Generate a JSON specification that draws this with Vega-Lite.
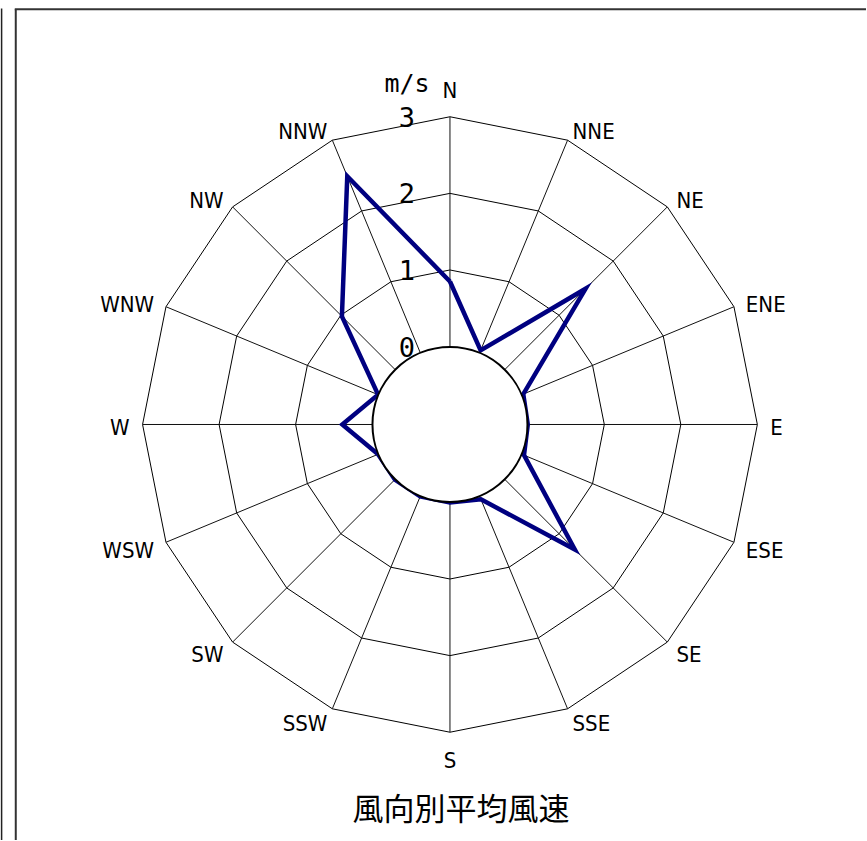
{
  "$schema": "https://vega.github.io/schema/vega-lite/v6.json",
  "width": 867,
  "height": 841,
  "padding": 0,
  "autosize": {"type": "fit", "contains": "padding"},
  "background": "white",
  "config": {"view": {"stroke": null}},
  "datasets": {
    "one": [{}],
    "dirs": [
      {"dir": "N", "i": 0}, {"dir": "NNE", "i": 1}, {"dir": "NE", "i": 2}, {"dir": "ENE", "i": 3},
      {"dir": "E", "i": 4}, {"dir": "ESE", "i": 5}, {"dir": "SE", "i": 6}, {"dir": "SSE", "i": 7},
      {"dir": "S", "i": 8}, {"dir": "SSW", "i": 9}, {"dir": "SW", "i": 10}, {"dir": "WSW", "i": 11},
      {"dir": "W", "i": 12}, {"dir": "WNW", "i": 13}, {"dir": "NW", "i": 14}, {"dir": "NNW", "i": 15}
    ],
    "ringpts": [
      {"i": 0, "levels": [1, 2, 3]}, {"i": 1, "levels": [1, 2, 3]}, {"i": 2, "levels": [1, 2, 3]},
      {"i": 3, "levels": [1, 2, 3]}, {"i": 4, "levels": [1, 2, 3]}, {"i": 5, "levels": [1, 2, 3]},
      {"i": 6, "levels": [1, 2, 3]}, {"i": 7, "levels": [1, 2, 3]}, {"i": 8, "levels": [1, 2, 3]},
      {"i": 9, "levels": [1, 2, 3]}, {"i": 10, "levels": [1, 2, 3]}, {"i": 11, "levels": [1, 2, 3]},
      {"i": 12, "levels": [1, 2, 3]}, {"i": 13, "levels": [1, 2, 3]}, {"i": 14, "levels": [1, 2, 3]},
      {"i": 15, "levels": [1, 2, 3]}, {"i": 16, "levels": [1, 2, 3]}
    ],
    "speed": [
      {"dir": "N", "i": 0, "v": 0.85}, {"dir": "NNE", "i": 1, "v": 0.03}, {"dir": "NE", "i": 2, "v": 1.49},
      {"dir": "ENE", "i": 3, "v": 0.02}, {"dir": "E", "i": 4, "v": 0.0}, {"dir": "ESE", "i": 5, "v": 0.03},
      {"dir": "SE", "i": 6, "v": 1.29}, {"dir": "SSE", "i": 7, "v": 0.04}, {"dir": "S", "i": 8, "v": 0.0},
      {"dir": "SSW", "i": 9, "v": 0.0}, {"dir": "SW", "i": 10, "v": 0.0}, {"dir": "WSW", "i": 11, "v": 0.0},
      {"dir": "W", "i": 12, "v": 0.39}, {"dir": "WNW", "i": 13, "v": 0.0}, {"dir": "NW", "i": 14, "v": 0.98},
      {"dir": "NNW", "i": 15, "v": 2.49}, {"dir": "N", "i": 16, "v": 0.85}
    ],
    "ticks": [
      {"lab": "0", "v": 0}, {"lab": "1", "v": 1}, {"lab": "2", "v": 2}, {"lab": "3", "v": 3}
    ]
  },
  "layer": [
    {
      "data": {"name": "ringpts"},
      "transform": [
        {"flatten": ["levels"], "as": ["lev"]},
        {"calculate": "78 + 76.7 * datum.lev", "as": "r"},
        {"calculate": "datum.r * sin(datum.i * PI / 8)", "as": "x"},
        {"calculate": "datum.r * cos(datum.i * PI / 8)", "as": "y"}
      ],
      "mark": {"type": "line", "color": "#000", "strokeWidth": 1},
      "encoding": {
        "x": {"field": "x", "type": "quantitative", "axis": null, "scale": {"domain": [-450, 417], "nice": false, "zero": false}},
        "y": {"field": "y", "type": "quantitative", "axis": null, "scale": {"domain": [-416, 425], "nice": false, "zero": false}},
        "detail": {"field": "lev"},
        "order": {"field": "i", "type": "quantitative"}
      }
    },
    {
      "data": {"name": "dirs"},
      "transform": [
        {"calculate": "78 * sin(datum.i * PI / 8)", "as": "x1"},
        {"calculate": "78 * cos(datum.i * PI / 8)", "as": "y1"},
        {"calculate": "308 * sin(datum.i * PI / 8)", "as": "x2"},
        {"calculate": "308 * cos(datum.i * PI / 8)", "as": "y2"}
      ],
      "mark": {"type": "rule", "color": "#111", "strokeWidth": 1},
      "encoding": {
        "x": {"field": "x1", "type": "quantitative", "scale": {"domain": [-450, 417], "nice": false, "zero": false}},
        "y": {"field": "y1", "type": "quantitative", "scale": {"domain": [-416, 425], "nice": false, "zero": false}},
        "x2": {"field": "x2"},
        "y2": {"field": "y2"}
      }
    },
    {
      "data": {"name": "speed"},
      "transform": [
        {"calculate": "78 + 76.7 * datum.v", "as": "r"},
        {"calculate": "datum.r * sin(datum.i * PI / 8)", "as": "x"},
        {"calculate": "datum.r * cos(datum.i * PI / 8)", "as": "y"}
      ],
      "mark": {"type": "line", "color": "#000080", "strokeWidth": 4.5, "strokeJoin": "miter"},
      "encoding": {
        "x": {"field": "x", "type": "quantitative", "scale": {"domain": [-450, 417], "nice": false, "zero": false}},
        "y": {"field": "y", "type": "quantitative", "scale": {"domain": [-416, 425], "nice": false, "zero": false}},
        "order": {"field": "i", "type": "quantitative"}
      }
    },
    {
      "data": {"name": "one"},
      "mark": {"type": "point", "shape": "circle", "filled": true, "fill": "white", "stroke": "black", "strokeWidth": 2, "opacity": 1, "fillOpacity": 1, "strokeOpacity": 1, "size": 24025},
      "encoding": {
        "x": {"datum": 0, "type": "quantitative"},
        "y": {"datum": 0, "type": "quantitative"}
      }
    },
    {
      "data": {"name": "dirs"},
      "transform": [
        {"filter": "datum.i >= 1 && datum.i <= 7"},
        {"calculate": "321 * sin(datum.i * PI / 8)", "as": "x"},
        {"calculate": "321 * cos(datum.i * PI / 8)", "as": "y"}
      ],
      "mark": {"type": "text", "align": "left", "baseline": "middle", "dy": 3.5, "font": "Liberation Sans Narrow, DejaVu Sans Condensed, sans-serif", "fontSize": 22, "color": "black"},
      "encoding": {
        "x": {"field": "x", "type": "quantitative"},
        "y": {"field": "y", "type": "quantitative"},
        "text": {"field": "dir"}
      }
    },
    {
      "data": {"name": "dirs"},
      "transform": [
        {"filter": "datum.i >= 9"},
        {"calculate": "321 * sin(datum.i * PI / 8)", "as": "x"},
        {"calculate": "321 * cos(datum.i * PI / 8)", "as": "y"}
      ],
      "mark": {"type": "text", "align": "right", "baseline": "middle", "dy": 3.5, "font": "Liberation Sans Narrow, DejaVu Sans Condensed, sans-serif", "fontSize": 22, "color": "black"},
      "encoding": {
        "x": {"field": "x", "type": "quantitative"},
        "y": {"field": "y", "type": "quantitative"},
        "text": {"field": "dir"}
      }
    },
    {
      "data": {"name": "dirs"},
      "transform": [
        {"filter": "datum.i == 0"},
        {"calculate": "321 * cos(datum.i * PI / 8)", "as": "y"}
      ],
      "mark": {"type": "text", "align": "center", "baseline": "bottom", "dy": -1, "font": "Liberation Sans Narrow, DejaVu Sans Condensed, sans-serif", "fontSize": 22, "color": "black"},
      "encoding": {
        "x": {"datum": 0, "type": "quantitative"},
        "y": {"field": "y", "type": "quantitative"},
        "text": {"field": "dir"}
      }
    },
    {
      "data": {"name": "dirs"},
      "transform": [
        {"filter": "datum.i == 8"},
        {"calculate": "321 * cos(datum.i * PI / 8)", "as": "y"}
      ],
      "mark": {"type": "text", "align": "center", "baseline": "top", "dy": 6, "font": "Liberation Sans Narrow, DejaVu Sans Condensed, sans-serif", "fontSize": 22, "color": "black"},
      "encoding": {
        "x": {"datum": 0, "type": "quantitative"},
        "y": {"field": "y", "type": "quantitative"},
        "text": {"field": "dir"}
      }
    },
    {
      "data": {"name": "ticks"},
      "transform": [
        {"calculate": "78 + 76.7 * datum.v", "as": "r"}
      ],
      "mark": {"type": "text", "align": "center", "baseline": "middle", "dx": -43, "dy": 2, "font": "DejaVu Sans Mono", "fontSize": 27, "color": "black"},
      "encoding": {
        "x": {"datum": 0, "type": "quantitative"},
        "y": {"field": "r", "type": "quantitative"},
        "text": {"field": "lab"}
      }
    },
    {
      "data": {"name": "one"},
      "mark": {"type": "text", "align": "center", "baseline": "middle", "dx": -43, "dy": -33, "font": "DejaVu Sans Mono", "fontSize": 25, "color": "black", "text": "m/s"},
      "encoding": {
        "x": {"datum": 0, "type": "quantitative"},
        "y": {"datum": 308, "type": "quantitative"}
      }
    },
    {
      "data": {"name": "one"},
      "mark": {"type": "text", "align": "center", "baseline": "middle", "font": "Noto Sans CJK JP", "fontSize": 31, "color": "black", "text": "風向別平均風速"},
      "encoding": {
        "x": {"datum": 11, "type": "quantitative"},
        "y": {"datum": -387, "type": "quantitative"}
      }
    },
    {
      "data": {"name": "one"},
      "mark": {"type": "rule", "color": "#333", "strokeWidth": 2},
      "encoding": {
        "x": {"datum": -435.2, "type": "quantitative"},
        "y": {"datum": 415.8, "type": "quantitative"},
        "y2": {"datum": -416}
      }
    },
    {
      "data": {"name": "one"},
      "mark": {"type": "rule", "color": "#333", "strokeWidth": 2},
      "encoding": {
        "x": {"datum": -436.2, "type": "quantitative"},
        "x2": {"datum": 417},
        "y": {"datum": 415.8, "type": "quantitative"}
      }
    },
    {
      "data": {"name": "one"},
      "mark": {"type": "rule", "color": "#222", "strokeWidth": 1.5},
      "encoding": {
        "x": {"datum": -449.4, "type": "quantitative"},
        "y": {"datum": 416.5, "type": "quantitative"},
        "y2": {"datum": -416}
      }
    }
  ]
}
